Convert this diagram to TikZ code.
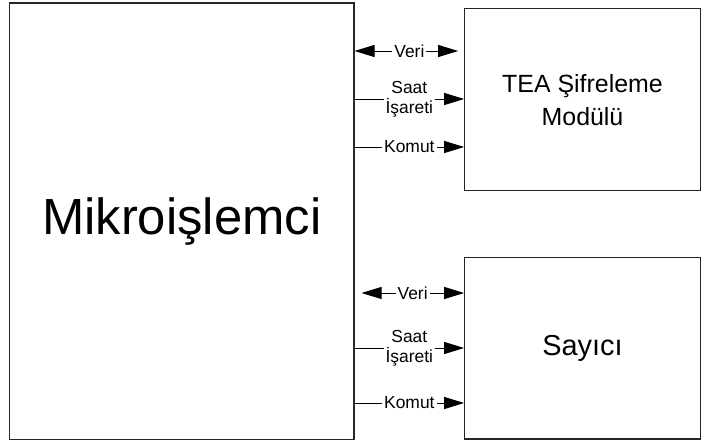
\documentclass[tikz,border=0pt]{standalone}
\usepackage{fontspec}
\setmainfont{Liberation Sans}
\usetikzlibrary{arrows.meta}

\begin{document}
\begin{tikzpicture}[x=1bp, y=-1bp,
  block/.style={
    draw=black!85, line width=1.1bp,
    inner sep=0pt, align=center
  },
  sig/.style={-{Triangle[length=20bp,width=12bp]}, line width=0.9bp},
  bisig/.style={{Triangle[length=20bp,width=12bp]}-{Triangle[length=20bp,width=12bp]}, line width=0.9bp},
  lbl/.style={fill=white, inner sep=2bp, align=center, font=\fontsize{17.5}{20}\selectfont}
]
  \useasboundingbox (0,0) rectangle (701,443);
  \node[block, minimum width=344.5bp, minimum height=436.5bp,
        font=\fontsize{51}{60}\selectfont] (mikro) at (181.75,221.25) {Mikroişlemci};
  \node[block, minimum width=235.6bp, minimum height=182bp,
        font=\fontsize{25}{33}\selectfont] (tea) at (582.5,99.7) {TEA Şifreleme\\Modülü};
  \node[block, minimum width=235.6bp, minimum height=181.7bp,
        font=\fontsize{29}{34}\selectfont] (sayici) at (582.5,348.15) {Sayıcı};
  % sinyaller: mikroislemci -> TEA
  \draw[bisig, shorten >=6bp] (mikro.east |- 0,51) -- node[lbl] {Veri} (tea.west |- 0,51);
  \draw[sig] (mikro.east |- 0,99) -- node[lbl] {Saat\\İşareti} (tea.west |- 0,99);
  \draw[sig] (mikro.east |- 0,147) -- node[lbl] {Komut} (tea.west |- 0,147);
  % sinyaller: mikroislemci -> sayici
  \draw[bisig, shorten <=7bp] (mikro.east |- 0,293) -- node[lbl, pos=0.53] {Veri} (sayici.west |- 0,293);
  \draw[sig] (mikro.east |- 0,348) -- node[lbl] {Saat\\İşareti} (sayici.west |- 0,348);
  \draw[sig] (mikro.east |- 0,403) -- node[lbl] {Komut} (sayici.west |- 0,403);
\end{tikzpicture}
\end{document}
